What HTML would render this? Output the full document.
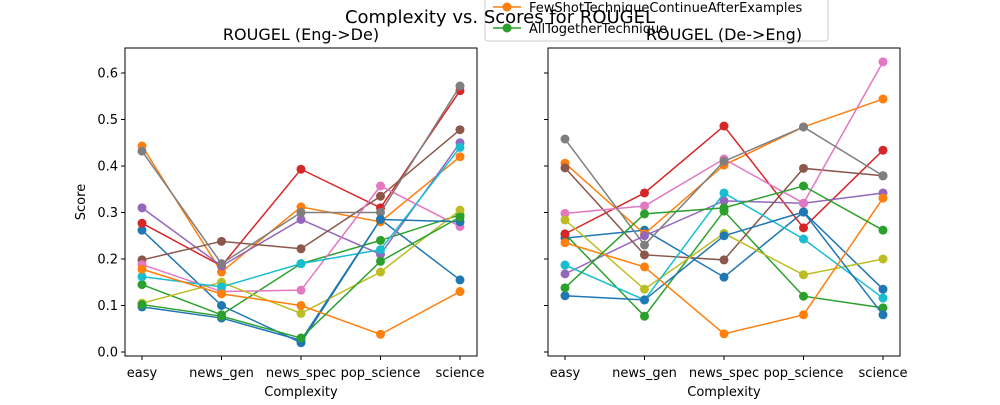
<!DOCTYPE html>
<html><head><meta charset="utf-8"><style>
body{margin:0;background:#fff}
svg text{font-family:"DejaVu Sans","Liberation Sans",sans-serif;fill:#000}
</style></head><body>
<svg id="c" width="1000" height="400" xmlns="http://www.w3.org/2000/svg"></svg>
<script>
const categories=["easy","news_gen","news_spec","pop_science","science"];
const yTicks=[0.0,0.1,0.2,0.3,0.4,0.5,0.6];
const seriesColors=["#1f77b4","#ff7f0e","#2ca02c","#d62728","#9467bd","#8c564b","#e377c2","#7f7f7f","#bcbd22","#17becf","#1f77b4","#ff7f0e","#2ca02c"];
const leftValues=[
[0.262,0.100,0.020,0.285,0.155],
[0.443,0.172,0.312,0.280,0.420],
[0.145,0.080,0.190,0.240,0.295],
[0.277,0.185,0.393,0.310,0.562],
[0.310,0.185,0.285,0.210,0.450],
[0.198,0.238,0.222,0.335,0.478],
[0.188,0.130,0.133,0.357,0.270],
[0.432,0.190,0.300,0.300,0.572],
[0.105,0.150,0.083,0.172,0.305],
[0.162,0.140,0.190,0.220,0.440],
[0.097,0.073,0.025,0.285,0.280],
[0.178,0.125,0.100,0.038,0.130],
[0.102,0.077,0.030,0.195,0.290]];
const rightValues=[
[0.245,0.262,0.161,0.301,0.135],
[0.406,0.254,0.402,0.484,0.544],
[0.254,0.077,0.303,0.120,0.095],
[0.254,0.342,0.486,0.267,0.434],
[0.168,0.250,0.325,0.320,0.342],
[0.396,0.209,0.198,0.395,0.379],
[0.298,0.314,0.415,0.320,0.624],
[0.458,0.230,0.410,0.484,0.379],
[0.284,0.135,0.255,0.166,0.200],
[0.187,0.112,0.342,0.243,0.116],
[0.121,0.112,0.250,0.301,0.080],
[0.235,0.183,0.039,0.080,0.331],
[0.138,0.297,0.310,0.357,0.262]];
const legendLabels=["FewShotTechniqueContinueAfterExamples","AllTogetherTechnique"];
const legendColors=["#ff7f0e","#2ca02c"];

const NS="http://www.w3.org/2000/svg";
const svg=document.getElementById('c');
function mk(tag,attrs,parent){const e=document.createElementNS(NS,tag);for(const k in attrs)e.setAttribute(k,attrs[k]);(parent||svg).appendChild(e);return e;}
const yScale=v=>352-v*465;
function panel(x0,values,showY,name){
  const g=mk('g',{});
  
  
  const xs=i=>x0+17+i*79.5;
  values.forEach((s,si)=>{
    const pts=s.map((v,i)=>xs(i)+','+yScale(v)).join(' ');
    const pl=mk('polyline',{points:pts,fill:'none',stroke:seriesColors[si],'stroke-width':1.5},g);
    
    
    s.forEach((v,i)=>{
      const c=mk('circle',{cx:xs(i),cy:yScale(v),r:4.5,fill:seriesColors[si]},g);
      
      
    });
  });
  const fr=mk('rect',{x:x0,y:48,width:352,height:308,fill:'none',stroke:'#000','stroke-width':1},g);
  
  
  categories.forEach((c,i)=>{
    mk('line',{x1:xs(i),x2:xs(i),y1:356,y2:360,stroke:'#000'},g);
    const t=mk('text',{x:xs(i),y:377,'text-anchor':'middle','font-size':13},g);
    t.textContent=c;
    
    
  });
  yTicks.forEach(v=>{
    mk('line',{x1:x0-4,x2:x0,y1:yScale(v),y2:yScale(v),stroke:'#000'},g);
    if(showY){
      const t=mk('text',{x:x0-7,y:yScale(v)+4.5,'text-anchor':'end','font-size':13},g);
      t.textContent=v.toFixed(1);
      
      
    }
  });
  const xl=mk('text',{x:x0+176,y:396,'text-anchor':'middle','font-size':13},g);
  xl.textContent='Complexity';
  
  
}
panel(125,leftValues,true,'left-panel');
panel(548,rightValues,false,'right-panel');
const yl=mk('text',{x:85,y:202,'text-anchor':'middle','font-size':13,transform:'rotate(-90 85 202)'});
yl.textContent='Score';


const lg=mk('g',{});


mk('rect',{x:485,y:-10,width:343,height:51,rx:3,fill:'#fff','fill-opacity':0.8,stroke:'#ccc'},lg);
legendLabels.forEach((l,i)=>{
  const y=7+i*21;
  mk('line',{x1:493,x2:521,y1:y,y2:y,stroke:legendColors[i],'stroke-width':1.5},lg);
  mk('circle',{cx:507,cy:y,r:4.5,fill:legendColors[i]},lg);
  const t=mk('text',{x:529,y:y+5,'font-size':13},lg);
  t.textContent=l;
  
  
});
const t1=mk('text',{x:301,y:40,'text-anchor':'middle','font-size':16});
t1.textContent='ROUGEL (Eng->De)';


const t2=mk('text',{x:724,y:40,'text-anchor':'middle','font-size':16});
t2.textContent='ROUGEL (De->Eng)';


const st=mk('text',{x:500,y:23,'text-anchor':'middle','font-size':18});
st.textContent='Complexity vs. Scores for ROUGEL';


</script>
</body></html>
